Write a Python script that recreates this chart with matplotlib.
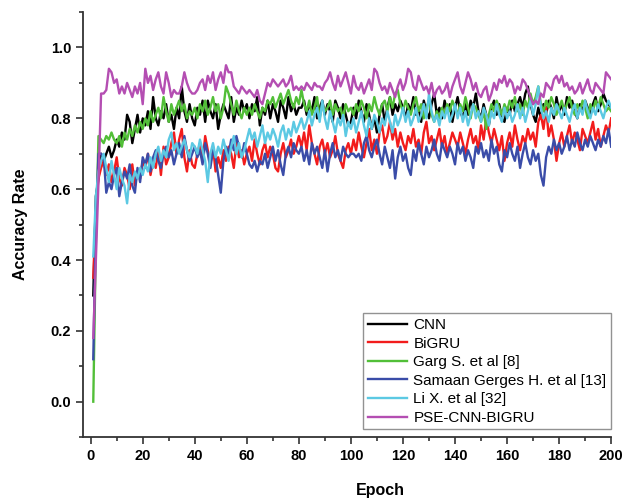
import numpy as np
import matplotlib
matplotlib.use("Agg")
import matplotlib.pyplot as plt
from matplotlib.ticker import MultipleLocator

# epochs 1..200
epochs = np.arange(1, 201)

cnn = [
    .30, .58, .63, .70, .68, .70, .72, .69, .71, .74, .72, .76, .74, .81, .79, .73, .77, .81, .76, .80,
    .78, .82, .77, .86, .80, .78, .82, .80, .84, .79, .81, .77, .83, .80, .89, .82, .79, .84, .80, .78,
    .83, .81, .85, .79, .85, .82, .80, .84, .77, .81, .84, .82, .80, .86, .79, .83, .81, .85, .82, .84,
    .80, .84, .82, .86, .78, .83, .81, .85, .80, .84, .82, .79, .85, .83, .80, .86, .82, .84, .81, .83,
    .83, .85, .81, .84, .82, .86, .80, .83, .85, .81, .84, .82, .79, .85, .83, .80, .84, .81, .78, .79,
    .83, .80, .85, .82, .79, .84, .81, .77, .80, .76, .81, .84, .79, .83, .86, .81, .84, .82, .85, .83,
    .80, .84, .82, .86, .81, .83, .79, .85, .82, .80, .84, .87, .81, .83, .80, .85, .82, .84, .79, .83,
    .86, .82, .80, .84, .81, .85, .83, .87, .82, .80, .84, .81, .78, .83, .85, .81, .84, .80, .79, .83,
    .81, .85, .82, .84, .86, .83, .87, .89, .84, .81, .79, .83, .80, .84, .81, .85, .83, .80, .86, .82,
    .84, .81, .86, .83, .85, .82, .80, .84, .82, .85, .83, .81, .84, .86, .82, .84, .87, .85, .84, .83,
]

bigru = [
    .35, .55, .63, .66, .68, .64, .67, .62, .65, .69, .63, .61, .66, .64, .60, .67, .61, .65, .63, .68,
    .66, .70, .64, .68, .66, .71, .64, .72, .67, .69, .73, .76, .70, .74, .77, .69, .65, .71, .67, .66,
    .70, .73, .68, .75, .71, .67, .72, .65, .69, .66, .71, .68, .72, .70, .66, .73, .69, .71, .67, .70,
    .72, .68, .74, .70, .67, .71, .73, .69, .72, .70, .66, .65, .70, .73, .69, .71, .74, .70, .72, .75,
    .72, .76, .71, .78, .73, .70, .67, .72, .74, .70, .73, .69, .71, .75, .70, .68, .66, .71, .73, .70,
    .74, .71, .76, .72, .69, .73, .77, .71, .74, .70, .76, .78, .73, .75, .79, .74, .77, .72, .76, .73,
    .71, .75, .73, .77, .72, .74, .70, .76, .79, .73, .75, .71, .74, .77, .72, .75, .70, .73, .76, .74,
    .72, .76, .73, .70, .74, .77, .73, .75, .71, .78, .74, .80, .76, .73, .77, .74, .71, .75, .68, .73,
    .76, .72, .78, .74, .71, .75, .73, .77, .74, .76, .72, .79, .81, .77, .83, .75, .78, .74, .68, .73,
    .76, .72, .75, .78, .73, .76, .74, .71, .77, .75, .73, .76, .79, .74, .77, .72, .75, .78, .76, .80,
]

garg = [
    .00, .45, .75, .74, .73, .75, .74, .76, .74, .73, .75, .72, .76, .74, .77, .75, .78, .76, .79, .77,
    .80, .78, .82, .79, .81, .83, .80, .86, .82, .79, .84, .81, .83, .85, .82, .84, .80, .82, .81, .83,
    .80, .84, .82, .85, .81, .83, .86, .82, .84, .80, .83, .89, .87, .84, .81, .85, .82, .80, .83, .81,
    .83, .81, .84, .82, .80, .83, .82, .85, .84, .86, .83, .85, .87, .84, .86, .88, .85, .83, .86, .84,
    .88, .84, .82, .85, .81, .83, .86, .80, .84, .82, .83, .85, .81, .84, .82, .83, .80, .84, .82, .83,
    .81, .84, .82, .85, .83, .80, .84, .82, .86, .83, .81, .84, .85, .82, .86, .83, .87, .88, .84, .82,
    .85, .83, .81, .84, .86, .82, .84, .80, .83, .85, .81, .79, .82, .80, .83, .81, .84, .82, .85, .83,
    .81, .84, .82, .86, .83, .80, .84, .83, .81, .79, .82, .77, .81, .84, .82, .85, .83, .81, .84, .82,
    .85, .83, .86, .82, .84, .81, .85, .83, .87, .84, .86, .89, .84, .82, .85, .83, .86, .84, .81, .83,
    .85, .82, .84, .86, .83, .81, .84, .82, .85, .83, .80, .84, .82, .85, .83, .86, .84, .82, .83, .82,
]

samaan = [
    .12, .50, .70, .70, .69, .59, .62, .60, .64, .66, .58, .62, .65, .63, .67, .61, .59, .66, .62, .69,
    .67, .70, .65, .69, .71, .68, .66, .70, .72, .69, .71, .67, .70, .73, .69, .75, .71, .68, .70, .72,
    .69, .71, .67, .73, .70, .66, .71, .69, .64, .59, .68, .72, .70, .74, .71, .75, .72, .69, .73, .70,
    .67, .66, .68, .65, .68, .67, .70, .66, .69, .72, .68, .71, .67, .64, .70, .72, .69, .73, .71, .70,
    .72, .68, .71, .67, .73, .70, .72, .69, .66, .71, .65, .70, .73, .69, .71, .68, .72, .70, .69, .70,
    .70, .69, .70, .68, .73, .75, .71, .69, .72, .74, .70, .67, .72, .69, .66, .71, .63, .69, .72, .68,
    .70, .66, .64, .71, .68, .73, .70, .67, .72, .69, .71, .74, .70, .68, .73, .71, .69, .72, .70, .67,
    .73, .70, .72, .68, .71, .69, .66, .72, .70, .73, .69, .71, .68, .74, .70, .72, .67, .65, .71, .69,
    .73, .70, .68, .72, .66, .70, .73, .69, .67, .71, .68, .70, .64, .61, .69, .72, .70, .74, .71, .73,
    .70, .72, .75, .71, .74, .72, .76, .73, .71, .74, .72, .75, .73, .71, .74, .72, .75, .73, .77, .72,
]

li_x = [
    .41, .58, .65, .68, .70, .66, .62, .68, .64, .60, .66, .63, .61, .56, .64, .62, .65, .63, .66, .64,
    .67, .65, .69, .66, .70, .72, .68, .71, .69, .74, .76, .71, .73, .70, .72, .74, .71, .69, .73, .72,
    .70, .74, .71, .68, .62, .70, .73, .69, .72, .70, .74, .71, .68, .72, .75, .70, .73, .69, .71, .74,
    .77, .74, .76, .72, .75, .78, .73, .76, .74, .77, .75, .72, .76, .78, .74, .77, .75, .79, .76, .78,
    .80, .77, .79, .82, .78, .81, .83, .79, .85, .80, .77, .82, .79, .76, .80, .78, .81, .75, .79, .77,
    .80, .76, .79, .82, .78, .75, .80, .77, .81, .79, .76, .80, .78, .82, .79, .76, .81, .78, .80, .83,
    .79, .82, .78, .80, .83, .79, .81, .84, .80, .87, .82, .79, .81, .78, .82, .80, .83, .79, .81, .84,
    .80, .83, .79, .82, .78, .81, .84, .80, .82, .79, .83, .81, .78, .82, .80, .84, .81, .79, .83, .80,
    .82, .79, .81, .84, .80, .83, .79, .82, .85, .81, .84, .89, .83, .80, .82, .79, .83, .81, .84, .82,
    .80, .83, .81, .79, .82, .84, .80, .83, .81, .85, .82, .80, .83, .81, .84, .82, .80, .83, .85, .83,
]

pse = [
    .18, .40, .62, .87, .87, .88, .94, .93, .90, .91, .87, .89, .87, .90, .88, .86, .89, .87, .90, .84,
    .94, .90, .92, .88, .91, .93, .89, .87, .93, .90, .86, .88, .87, .87, .89, .93, .90, .88, .87, .87,
    .88, .90, .91, .88, .92, .90, .93, .88, .91, .93, .90, .95, .93, .93, .89, .88, .87, .89, .88, .87,
    .88, .87, .86, .88, .85, .84, .87, .90, .89, .91, .90, .89, .90, .91, .89, .90, .92, .88, .89, .88,
    .89, .88, .90, .89, .88, .90, .89, .89, .88, .90, .91, .93, .90, .88, .92, .89, .91, .93, .90, .87,
    .92, .89, .88, .90, .87, .89, .91, .88, .94, .93, .90, .88, .89, .87, .90, .88, .86, .89, .91, .88,
    .90, .94, .93, .89, .88, .92, .90, .88, .89, .87, .90, .86, .88, .89, .87, .88, .90, .86, .89, .91,
    .93, .89, .87, .90, .93, .91, .88, .90, .87, .86, .88, .89, .85, .87, .90, .88, .91, .90, .92, .89,
    .91, .90, .87, .89, .88, .91, .90, .88, .86, .84, .85, .84, .87, .86, .90, .89, .88, .91, .92, .90,
    .92, .89, .90, .88, .89, .87, .88, .90, .87, .89, .91, .88, .87, .90, .89, .88, .87, .93, .92, .91,
]

series = [
    ("CNN", cnn, "#000000"),
    ("BiGRU", bigru, "#f21c1c"),
    ("Garg S. et al [8]", garg, "#52bf38"),
    ("Samaan Gerges H. et al [13]", samaan, "#3a4ca8"),
    ("Li X. et al [32]", li_x, "#5cc9e3"),
    ("PSE-CNN-BIGRU", pse, "#b44eb2"),
]

plt.rcParams['font.family'] = ['Liberation Sans', 'DejaVu Sans']

fig = plt.figure(figsize=(6.23, 5.03), dpi=100)
ax = fig.add_axes([0.133, 0.131, 0.848, 0.845])

for name, vals, col in series:
    ax.plot(epochs, vals, color=col, lw=1.7, label=name)

ax.set_xlim(-3, 200)
ax.set_ylim(-0.1, 1.1)
ax.set_xticks(range(0, 201, 20))
ax.xaxis.set_minor_locator(MultipleLocator(10))
ax.set_yticks([0.0, 0.2, 0.4, 0.6, 0.8, 1.0])
ax.yaxis.set_minor_locator(MultipleLocator(0.1))

for s in ['top', 'right']:
    ax.spines[s].set_visible(False)
for s in ['left', 'bottom']:
    ax.spines[s].set_linewidth(1.3)
    ax.spines[s].set_color('#333333')

ax.tick_params(which='major', direction='out', length=5, width=1.2, color='#333333', labelsize=10.5)
ax.tick_params(which='minor', direction='out', length=3, width=1.2, color='#333333')
for lab in ax.get_xticklabels() + ax.get_yticklabels():
    lab.set_fontweight('bold')

ax.set_xlabel("Epoch", fontsize=11.5, fontweight='bold')
ax.set_ylabel("Accuracy Rate", fontsize=11.5, fontweight='bold')
ax.xaxis.set_label_coords(0.564, -0.108)
ax.yaxis.set_label_coords(-0.104, 0.5)

leg = ax.legend(loc='lower right', bbox_to_anchor=(1.0, 0.018), borderaxespad=0,
                fontsize=11, fancybox=False, edgecolor='#777777', handlelength=2.6,
                labelspacing=0.3, handletextpad=0.4, borderpad=0.3)
leg.get_frame().set_linewidth(1.0)

fig.savefig("out.png", dpi=100)
